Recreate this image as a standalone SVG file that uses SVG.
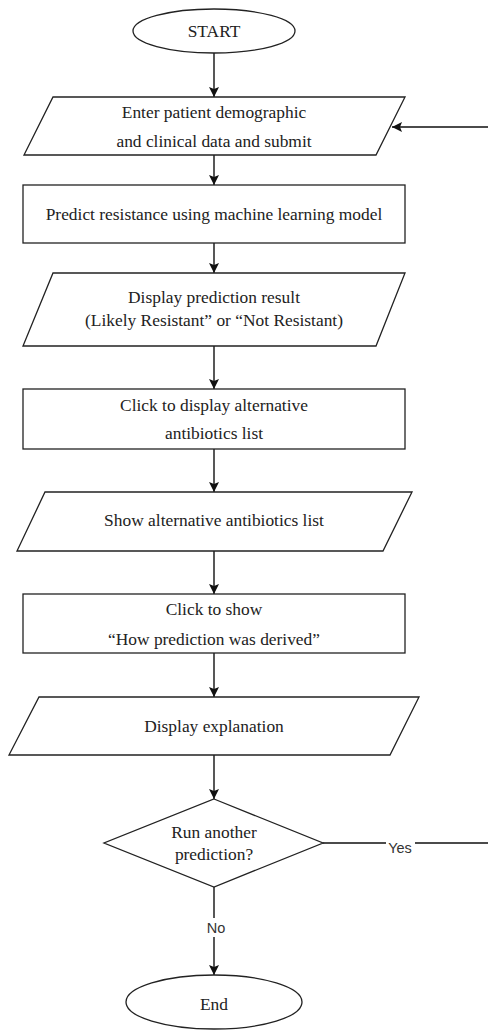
<svg xmlns="http://www.w3.org/2000/svg" width="488" height="1030" viewBox="0 0 488 1030">
<style>
.s{fill:#fff;stroke:#222;stroke-width:1.3}
.t{font-family:"Liberation Serif","Times New Roman",serif;font-size:17.4px;fill:#222;text-anchor:middle}
.l{font-family:"Liberation Sans",Arial,sans-serif;font-size:14.5px;fill:#333;text-anchor:middle}
.c{fill:none;stroke:#111;stroke-width:1.4}
</style>
<defs>
<marker id="a" viewBox="0 0 10 10" refX="10" refY="5" markerWidth="10" markerHeight="10" markerUnits="userSpaceOnUse" orient="auto">
<path d="M0,0 L10,5 L0,10 L2,5 z" fill="#111"/>
</marker>
</defs>
<g id="connectors">
<path class="c" d="M214,53 V97" marker-end="url(#a)"/>
<path class="c" d="M214,155 V185" marker-end="url(#a)"/>
<path class="c" d="M214,243 V273" marker-end="url(#a)"/>
<path class="c" d="M214,346 V389" marker-end="url(#a)"/>
<path class="c" d="M214,449 V492" marker-end="url(#a)"/>
<path class="c" d="M214,551 V594" marker-end="url(#a)"/>
<path class="c" d="M214,653 V697" marker-end="url(#a)"/>
<path class="c" d="M214,755 V799" marker-end="url(#a)"/>
<path class="c" d="M214,887 V975" marker-end="url(#a)"/>
<path class="c" d="M323,843 H490 V127 H392" marker-end="url(#a)"/>
<rect x="386" y="838" width="29" height="16" fill="#fff"/>
<text class="l" x="400" y="853">Yes</text>
<rect x="203" y="918" width="26" height="19" fill="#fff"/>
<text class="l" x="216" y="933">No</text>
</g>
<g id="start">
<ellipse class="s" cx="214" cy="31" rx="81" ry="22"/>
<text class="t" x="214" y="37">START</text>
</g>
<g id="enter">
<path class="s" d="M53,97 H405 L376,155 H24 Z"/>
<text class="t" x="214" y="118">Enter patient demographic</text>
<text class="t" x="214" y="147">and clinical data and submit</text>
</g>
<g id="predict">
<rect class="s" x="23" y="185" width="382" height="58"/>
<text class="t" x="214" y="220">Predict resistance using machine learning model</text>
</g>
<g id="display-result">
<path class="s" d="M53,273 H405 L376,346 H23 Z"/>
<text class="t" x="214" y="303">Display prediction result</text>
<text class="t" x="214" y="326">(Likely Resistant” or “Not Resistant)</text>
</g>
<g id="click-alt">
<rect class="s" x="23" y="389" width="382" height="60"/>
<text class="t" x="214" y="411">Click to display alternative</text>
<text class="t" x="214" y="439">antibiotics list</text>
</g>
<g id="show-alt">
<path class="s" d="M45,492 H412 L383,551 H17 Z"/>
<text class="t" x="214" y="526">Show alternative antibiotics list</text>
</g>
<g id="click-how">
<rect class="s" x="23" y="594" width="382" height="59"/>
<text class="t" x="214" y="615">Click to show</text>
<text class="t" x="214" y="645">“How prediction was derived”</text>
</g>
<g id="display-expl">
<path class="s" d="M39,697 H419 L390,755 H9 Z"/>
<text class="t" x="214" y="732">Display explanation</text>
</g>
<g id="decision">
<path class="s" d="M214,799 L323,843 L214,887 L104,843 Z"/>
<text class="t" x="214" y="838">Run another</text>
<text class="t" x="214" y="860">prediction?</text>
</g>
<g id="end">
<ellipse class="s" cx="214" cy="1002" rx="88" ry="27"/>
<text class="t" x="214" y="1010">End</text>
</g>
</svg>
